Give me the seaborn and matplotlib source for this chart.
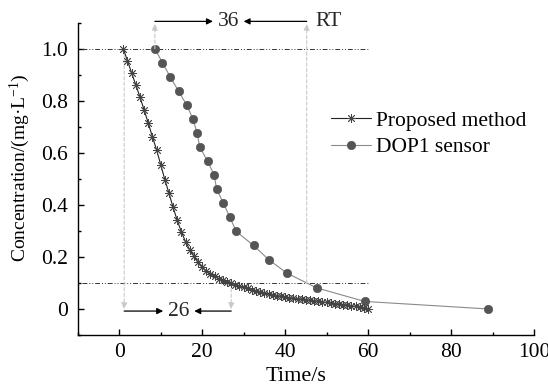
import numpy as np
import pandas as pd
import matplotlib
matplotlib.use("Agg")
import matplotlib.pyplot as plt
from matplotlib.ticker import MultipleLocator, FuncFormatter
import seaborn as sns

# ---------------- data ----------------
proposed_t = list(range(1, 61))
proposed_c = [1.000, 0.953, 0.907, 0.861, 0.815, 0.765, 0.715, 0.662, 0.612, 0.555,
              0.497, 0.445, 0.390, 0.340, 0.296, 0.258, 0.228, 0.203, 0.180, 0.160,
              0.146, 0.135, 0.125, 0.117, 0.110, 0.104, 0.099, 0.094, 0.089, 0.084,
              0.079, 0.074, 0.070, 0.066, 0.062, 0.058, 0.055, 0.051, 0.048, 0.045,
              0.043, 0.041, 0.039, 0.037, 0.035, 0.033, 0.031, 0.029, 0.027, 0.025,
              0.023, 0.021, 0.019, 0.017, 0.015, 0.012, 0.010, 0.007, 0.004, 0.001]
dop1_t = [8.6, 10.4, 12.3, 14.3, 16.3, 17.8, 18.8, 19.4, 21.3, 22.9,
          23.5, 25.1, 26.7, 28.2, 32.4, 36.0, 40.4, 47.6, 59.2, 89.0]
dop1_c = [1.000, 0.947, 0.892, 0.837, 0.783, 0.729, 0.675, 0.623, 0.568, 0.514,
          0.460, 0.407, 0.352, 0.298, 0.244, 0.190, 0.138, 0.081, 0.029, 0.000]

series_labels = ["Proposed method", "DOP1 sensor"]
x_label = "Time/s"
y_label = "Concentration/(mg·L$^{-1}$)"

# response-time annotations
rt_levels = [1.0, 0.1]
proposed_marks = [1.2, 27.0]   # 26 s
dop1_marks = [8.6, 45.2]       # 36 s
proposed_rt_text = "26"
dop1_rt_text = "36"
rt_label = "RT"

# ---------------- style ----------------
sns.set_theme(style="ticks")
plt.rcParams["font.family"] = ["Liberation Serif", "DejaVu Serif"]
plt.rcParams["mathtext.fontset"] = "custom"
plt.rcParams["mathtext.rm"] = "Liberation Serif"
plt.rcParams["mathtext.it"] = "Liberation Serif:italic"

FS = 15.5
fig = plt.figure(figsize=(5.48, 3.91), dpi=100)
ax = fig.add_axes([0.1418, 0.1432, 0.9745 - 0.1418, 0.942 - 0.1432])

df_p = pd.DataFrame({"t": proposed_t, "c": proposed_c})
df_d = pd.DataFrame({"t": dop1_t, "c": dop1_c})

sns.lineplot(data=df_p, x="t", y="c", ax=ax, color="#222222", linewidth=0.8,
             marker=(8, 2, 0), markersize=6.2, markeredgewidth=0.6,
             markeredgecolor="#444444", label=series_labels[0], zorder=4)
sns.lineplot(data=df_d, x="t", y="c", ax=ax, color="#8a8a8a", linewidth=0.8,
             marker="o", markersize=6, markerfacecolor="#555555",
             markeredgecolor="#555555", markeredgewidth=0.5,
             label=series_labels[1], zorder=3)

ax.set_xlim(-10, 100)
ax.set_ylim(-0.1, 1.1)
ax.xaxis.set_major_locator(MultipleLocator(20))
ax.xaxis.set_minor_locator(MultipleLocator(10))
ax.yaxis.set_major_locator(MultipleLocator(0.2))
ax.yaxis.set_minor_locator(MultipleLocator(0.1))
ax.set_yticks([0, 0.2, 0.4, 0.6, 0.8, 1.0])
ax.yaxis.set_major_formatter(FuncFormatter(lambda v, p: "0" if abs(v) < 1e-9 else f"{v:.1f}"))
ax.xaxis.set_major_formatter(FuncFormatter(lambda v, p: f"{v:.0f}"))

for s in ["top", "right"]:
    ax.spines[s].set_visible(False)
for s in ["left", "bottom"]:
    ax.spines[s].set_linewidth(1.0)
    ax.spines[s].set_color("black")

ax.tick_params(which="major", direction="in", length=4.3, width=1.0, colors="black",
               labelsize=FS, pad=6)
ax.tick_params(which="minor", direction="in", length=2.3, width=1.0, colors="black")
ax.tick_params(axis="y", which="major", pad=7)

ax.set_xlabel(x_label, fontsize=FS + 0.5, color="black")
ax.set_ylabel(y_label, fontsize=14, color="black")
ax.xaxis.set_label_coords(0.478, -0.102)
ax.yaxis.set_label_coords(-0.100, 0.535)

# horizontal dash-dot reference lines
for lv in rt_levels:
    ax.plot([-9, 60], [lv, lv], color="#333333", linewidth=0.7,
            dashes=(5, 2, 1, 2, 1, 2), zorder=2)

gray = "#c8c8c8"
top_y = 1.105
bot_y = -0.008
# DOP1 vertical lines (upward arrows)
ax.annotate("", xy=(dop1_marks[0], 1.095), xytext=(dop1_marks[0], 1.0),
            arrowprops=dict(arrowstyle="-|>", color=gray, lw=0.8, ls=(0, (3, 2)),
                            mutation_scale=9, shrinkA=0, shrinkB=0), annotation_clip=False)
ax.annotate("", xy=(dop1_marks[1], 1.095), xytext=(dop1_marks[1], 0.1),
            arrowprops=dict(arrowstyle="-|>", color=gray, lw=0.8, ls=(0, (3, 2)),
                            mutation_scale=9, shrinkA=0, shrinkB=0), annotation_clip=False)
# Proposed vertical lines (downward arrows)
ax.annotate("", xy=(proposed_marks[0], 0.0), xytext=(proposed_marks[0], 1.0),
            arrowprops=dict(arrowstyle="-|>", color=gray, lw=0.8, ls=(0, (3, 2)),
                            mutation_scale=9, shrinkA=0, shrinkB=0))
ax.annotate("", xy=(proposed_marks[1], 0.0), xytext=(proposed_marks[1], 0.1),
            arrowprops=dict(arrowstyle="-|>", color=gray, lw=0.8, ls=(0, (3, 2)),
                            mutation_scale=9, shrinkA=0, shrinkB=0))

# top black arrows + text
blk = dict(arrowstyle="-|>", color="black", lw=0.9, mutation_scale=9, shrinkA=0, shrinkB=0)
ax.annotate("", xy=(22.6, top_y), xytext=(dop1_marks[0], top_y), arrowprops=blk,
            annotation_clip=False)
ax.annotate("", xy=(30.0, top_y), xytext=(dop1_marks[1], top_y), arrowprops=blk,
            annotation_clip=False)
ax.text(26.3, top_y, dop1_rt_text, fontsize=FS, ha="center", va="center", clip_on=False)
ax.text(47.4, top_y, rt_label, fontsize=FS, ha="left", va="center", clip_on=False)

# bottom black arrows + text
ax.annotate("", xy=(10.6, bot_y), xytext=(proposed_marks[0], bot_y), arrowprops=blk)
ax.annotate("", xy=(18.1, bot_y), xytext=(proposed_marks[1], bot_y), arrowprops=blk)
ax.text(14.4, bot_y, proposed_rt_text, fontsize=FS, ha="center", va="center")

leg = ax.legend(loc="upper left", bbox_to_anchor=(0.556, 0.718), frameon=False,
                fontsize=FS, handlelength=1.85, handletextpad=0.2, labelspacing=0.3,
                borderaxespad=0, borderpad=0)
for t in leg.get_texts():
    t.set_color("black")

fig.savefig("out.png", dpi=100, facecolor="white")
